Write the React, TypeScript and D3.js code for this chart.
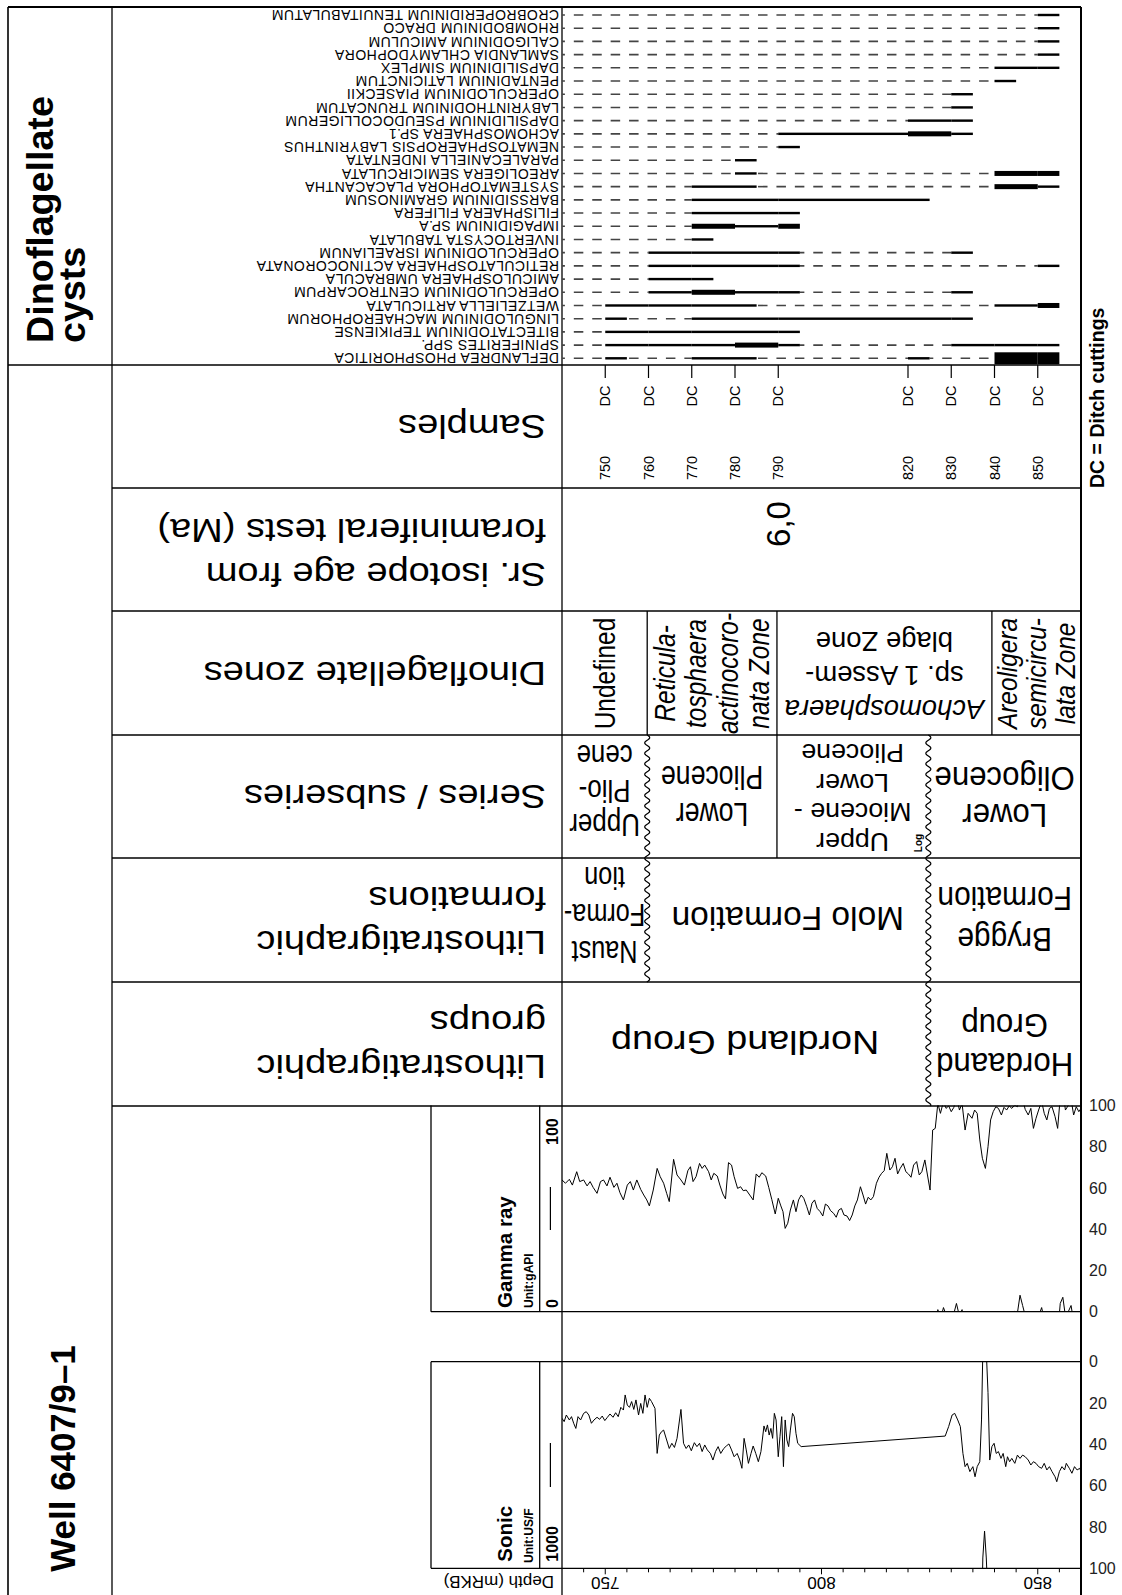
import React from "react";
import * as d3 from "d3";

const FONT = "'Liberation Sans', Arial, Helvetica, sans-serif";

// ---------------- DATA ----------------
const SAMPLE_DEPTHS = [750, 760, 770, 780, 790, 820, 830, 840, 850];
const SAMPLE_TYPE = "DC";

const SPECIES = [
  "CROBROPERIDINIUM TENUITABULATUM",
  "RHOMBODINIUM DRACO",
  "CALIGODINIUM AMICULUM",
  "SAMLANDIA CHLAMYDOPHORA",
  "DAPSILIDINIUM SIMPLEX",
  "PENTADINIUM LATICINCTUM",
  "OPERCULODINIUM PIASECKII",
  "LABYRINTHODINIUM TRUNCATUM",
  "DAPSILIDINIUM PSEUDOCOLLIGERUM",
  "ACHOMOSPHAERA SP.1",
  "NEMATOSPHAEROPSIS LABYRINTHUS",
  "PARALECANIELLA INDENTATA",
  "AREOLIGERA SEMICIRCULATA",
  "SYSTEMATOPHORA PLACACANTHA",
  "BARSSIDINIUM GRAMINOSUM",
  "FILISPHAERA FILIFERA",
  "IMPAGIDINIUM SP.A",
  "INVERTOCYSTA TABULATA",
  "OPERCULODINIUM ISRAELIANUM",
  "RETICULATOSPHAERA ACTINOCORONATA",
  "AMICULOSPHAERA UMBRACULA",
  "OPERCULODINIUM CENTROCARPUM",
  "WETZELIELLA ARTICULATA",
  "LINGULODINIUM MACHAEROPHORUM",
  "BITECTATODINIUM TEPIKIENSE",
  "SPINIFERITES SPP.",
  "DEFLANDREA PHOSPHORITICA",
];

// abundance per sample (order of SAMPLE_DEPTHS): 0 absent, 1 present, 2 common, 3 abundant
const ABUNDANCE = [
  [0, 0, 0, 0, 0, 0, 0, 0, 1],
  [0, 0, 0, 0, 0, 0, 0, 0, 1],
  [0, 0, 0, 0, 0, 0, 0, 0, 1],
  [0, 0, 0, 0, 0, 0, 0, 0, 1],
  [0, 0, 0, 0, 0, 0, 0, 1, 1],
  [0, 0, 0, 0, 0, 0, 0, 1, 0],
  [0, 0, 0, 0, 0, 0, 1, 0, 0],
  [0, 0, 0, 0, 0, 0, 1, 0, 0],
  [0, 0, 0, 0, 0, 1, 1, 0, 0],
  [0, 0, 0, 0, 1, 2, 1, 0, 0],
  [0, 0, 0, 0, 1, 0, 0, 0, 0],
  [0, 0, 0, 1, 0, 0, 0, 0, 0],
  [0, 0, 0, 1, 0, 0, 0, 2, 2],
  [0, 0, 1, 1, 0, 0, 0, 2, 1],
  [0, 0, 1, 1, 1, 1, 0, 0, 0],
  [0, 0, 1, 1, 1, 0, 0, 0, 0],
  [0, 0, 2, 1, 2, 0, 0, 0, 0],
  [0, 0, 1, 0, 0, 0, 0, 0, 0],
  [0, 1, 1, 1, 1, 0, 1, 0, 0],
  [0, 1, 1, 1, 1, 0, 0, 0, 1],
  [0, 1, 1, 0, 0, 0, 0, 0, 0],
  [0, 1, 2, 1, 1, 0, 1, 0, 0],
  [1, 1, 1, 1, 0, 0, 0, 1, 2],
  [1, 0, 1, 1, 1, 1, 1, 0, 0],
  [1, 1, 1, 1, 1, 0, 0, 0, 0],
  [1, 1, 1, 2, 1, 0, 1, 1, 1],
  [1, 0, 1, 1, 0, 1, 0, 3, 3],
];

const SR_AGE = { depth: 790, label: "6,0" };

// boundary depths (m)
const B_NAUST_MOLO = 759.7;
const B_PLIOCENE = 789.7;
const B_UNCONFORMITY = 824.7;
const B_AREOLIGERA = 839.4;

// Gamma ray log [depth m, gAPI]
const GAMMA_LOG = [
  [740.0, 63.9], [740.8, 62.3], [741.7, 64.2], [742.4, 61.4], [743.4, 67.9], [744.1, 63.1],
  [745.0, 63.9], [745.8, 61.0], [746.5, 63.1], [747.2, 60.3], [748.1, 57.4], [748.9, 63.1],
  [749.6, 63.9], [750.4, 61.0], [751.1, 65.2], [752.0, 60.3], [752.7, 62.3], [753.4, 57.7],
  [754.2, 54.2], [755.1, 61.4], [755.8, 63.1], [756.5, 59.0], [757.3, 63.9], [758.2, 59.3],
  [758.9, 56.6], [759.6, 54.2], [760.2, 51.3], [761.1, 59.0], [762.0, 69.5], [762.7, 65.5],
  [763.5, 62.3], [764.2, 57.4], [764.8, 53.4], [765.8, 73.9], [766.6, 66.3], [767.5, 63.9],
  [768.3, 61.4], [769.1, 68.4], [769.7, 70.3], [770.3, 63.1], [771.0, 65.5], [771.8, 71.9],
  [772.4, 69.5], [773.0, 71.1], [773.9, 67.9], [774.5, 63.9], [775.1, 67.1], [775.9, 65.8],
  [776.5, 61.4], [777.2, 57.1], [777.8, 54.7], [778.5, 72.3], [779.2, 71.1], [779.8, 65.5],
  [780.6, 59.8], [781.3, 60.6], [781.9, 58.7], [782.6, 59.0], [783.4, 56.6], [784.2, 54.2],
  [784.9, 66.8], [785.6, 65.2], [786.2, 67.4], [787.1, 65.8], [787.8, 60.3], [788.5, 54.5],
  [789.3, 47.4], [790.0, 55.0], [790.6, 51.3], [791.1, 48.5], [791.6, 40.4], [792.2, 42.9],
  [792.8, 49.3], [793.5, 54.2], [794.1, 48.5], [794.7, 54.2], [795.3, 56.6], [795.9, 55.0],
  [796.6, 50.9], [797.2, 46.9], [797.8, 52.6], [798.4, 54.2], [799.0, 50.1], [799.7, 48.5],
  [800.3, 46.4], [800.9, 52.2], [801.5, 51.3], [802.1, 49.0], [802.8, 47.7], [803.4, 45.8],
  [804.0, 49.3], [804.6, 50.1], [805.2, 46.9], [805.9, 46.4], [806.5, 44.2], [807.1, 46.9],
  [807.7, 51.3], [808.3, 54.2], [809.0, 60.6], [809.6, 56.6], [810.2, 52.2], [810.8, 55.5],
  [811.4, 54.2], [812.0, 55.8], [812.7, 62.3], [813.3, 65.2], [813.9, 67.1], [814.5, 68.4],
  [815.1, 76.8], [815.8, 68.7], [816.4, 70.3], [817.0, 74.4], [817.6, 66.8], [818.2, 69.5],
  [818.9, 71.9], [819.5, 67.9], [820.1, 66.8], [820.7, 65.2], [821.3, 71.1], [822.0, 72.8],
  [822.6, 66.3], [823.2, 67.9], [823.9, 73.6], [824.5, 66.3], [825.1, 59.0], [825.7, 88.1],
  [826.3, 88.9], [826.9, 101.0], [827.5, 96.2], [828.2, 102.0], [828.8, 98.6], [829.4, 99.8],
  [830.0, 97.0], [830.6, 99.1], [831.2, 104.0], [831.9, 97.8], [832.5, 101.0], [833.2, 88.1],
  [833.9, 96.2], [834.8, 93.8], [835.4, 97.8], [836.0, 96.2], [836.6, 83.3], [837.2, 74.4],
  [837.9, 69.5], [838.5, 80.0], [839.1, 93.0], [839.7, 97.0], [840.3, 99.4], [840.9, 98.6],
  [841.6, 95.4], [842.2, 99.1], [842.8, 97.8], [843.4, 99.8], [844.0, 98.6], [844.7, 100.2],
  [845.3, 99.4], [845.9, 108.0], [846.5, 103.0], [847.1, 98.1], [847.8, 95.4], [848.4, 98.6],
  [849.0, 88.9], [849.6, 93.8], [850.2, 97.8], [850.9, 102.0], [851.5, 96.2], [852.1, 93.0],
  [852.7, 98.6], [853.3, 99.4], [854.0, 94.6], [854.6, 88.9], [855.2, 104.0], [855.8, 107.0],
  [856.4, 97.8], [857.1, 100.2], [857.7, 103.0], [858.3, 95.4], [858.9, 99.4], [859.5, 97.0],
  [860.0, 98.6],
];

// Sonic log [depth m, us/ft scaled]
const SONIC_LOG = [
  [740.0, 27.4], [740.5, 29.0], [741.0, 25.8], [741.7, 28.2], [742.2, 26.6], [742.7, 29.8],
  [743.2, 32.3], [743.7, 26.6], [744.3, 28.2], [745.0, 25.0], [745.6, 24.2], [746.2, 25.8],
  [746.8, 29.8], [747.4, 28.2], [748.1, 26.9], [748.7, 27.9], [749.3, 26.3], [749.9, 28.5],
  [750.5, 26.9], [751.1, 25.3], [751.8, 26.9], [752.4, 24.7], [753.0, 26.6], [753.6, 22.1],
  [754.2, 23.4], [754.6, 16.1], [755.1, 21.0], [755.6, 22.1], [756.1, 19.3], [756.6, 23.1],
  [757.1, 18.5], [757.7, 25.8], [758.2, 20.2], [758.7, 25.0], [759.2, 16.1], [759.7, 22.1],
  [760.2, 17.7], [760.7, 19.3], [761.5, 22.6], [762.0, 44.4], [762.5, 35.5], [763.0, 33.9],
  [763.5, 33.1], [764.2, 37.9], [764.8, 42.0], [765.4, 39.5], [766.0, 41.5], [766.6, 37.1],
  [767.5, 23.1], [768.1, 39.5], [768.7, 42.0], [769.3, 40.3], [769.9, 43.1], [770.6, 39.2],
  [771.2, 41.1], [771.8, 39.5], [772.4, 43.5], [773.0, 40.3], [773.6, 42.7], [774.3, 44.4],
  [774.9, 47.6], [775.5, 43.5], [776.1, 41.1], [776.7, 44.4], [777.4, 42.0], [778.0, 40.8],
  [778.6, 39.8], [779.2, 42.7], [779.8, 46.0], [780.5, 44.4], [781.1, 47.6], [781.6, 51.6],
  [782.1, 37.1], [782.6, 42.7], [783.1, 49.2], [783.7, 44.4], [784.2, 40.8], [784.8, 44.4],
  [785.4, 48.4], [786.0, 43.5], [786.7, 31.1], [787.1, 33.9], [787.5, 30.6], [787.9, 35.5],
  [788.3, 32.3], [788.7, 37.1], [789.1, 25.0], [789.5, 28.2], [790.0, 46.0], [790.4, 36.3],
  [790.8, 26.6], [791.2, 50.8], [791.6, 28.2], [792.0, 37.9], [792.4, 41.1], [792.8, 33.1],
  [793.3, 25.0], [793.7, 26.6], [794.1, 34.7], [794.5, 39.5], [795.3, 41.1],
  [828.6, 36.0], [829.4, 31.4], [830.2, 25.8], [830.8, 25.0], [831.5, 28.2], [832.1, 31.4],
  [832.7, 44.4], [833.2, 50.8], [833.7, 49.2], [834.3, 53.2], [835.0, 50.8], [835.5, 55.7],
  [836.0, 50.8], [836.6, 48.4], [837.0, 28.2], [837.3, -5.0], [837.7, -18.0], [838.1, -5.0],
  [838.5, 15.0], [838.9, 47.6], [839.4, 41.1], [839.9, 39.5], [840.4, 44.4], [840.9, 43.5],
  [841.5, 46.8], [842.0, 44.4], [842.6, 50.8], [843.0, 46.0], [843.5, 48.4], [844.0, 46.8],
  [844.7, 49.2], [845.3, 45.2], [845.9, 46.8], [846.5, 45.2], [847.1, 46.0], [847.8, 47.6],
  [848.4, 50.0], [849.0, 48.4], [849.6, 49.2], [850.2, 50.8], [850.9, 51.6], [851.5, 49.2],
  [852.1, 52.4], [852.7, 50.8], [853.3, 53.2], [854.0, 55.7], [854.4, 58.1], [855.0, 53.2],
  [855.6, 50.8], [856.2, 52.4], [856.6, 49.2], [857.3, 51.6], [857.9, 54.0], [858.5, 50.8],
  [859.1, 52.4], [859.7, 51.6], [860.0, 53.2],
];

const LOG_TICKS = [0, 20, 40, 60, 80, 100];
const DEPTH_LABELS = [750, 800, 850];

// ---------------- LAYOUT ----------------
const W = 1122;
const H = 1595;
const X_LEFT = 8;
const X_TITLE = 112;
const X_MAIN = 562;
const X_RIGHT = 1081;
const X_HEAD = 431;
const X_HEADSEP = 539.7;
const Y_TOP = 7;
const Y_CYST = 365;
const Y_SAMP = 488;
const Y_SR = 611;
const Y_ZONE = 735;
const Y_SERIES = 858;
const Y_FORM = 982;
const Y_GROUP = 1106;
const G_TOP = 1105.5;
const G_BOT = 1311.7;
const S_TOP = 1361.7;
const S_BOT = 1568.3;
const BAR_H: Record<number, number> = { 1: 2.4, 2: 5, 3: 12 };
const DASH = 9.5;
const DASH_P = 18.42;
const DASH_ORIGIN = 555.4;

type BlockProps = {
  x: number;
  y: number;
  rot: number;
  lines: string[];
  size: number;
  sx?: number;
  lh?: number;
  anchor?: "start" | "middle" | "end";
  weight?: string;
  italic?: boolean[];
  fill?: string;
  ls?: number;
};

function Block({ x, y, rot, lines, size, sx = 1, lh = 0, anchor = "middle", weight = "normal", italic = [], fill = "#000", ls = 0 }: BlockProps) {
  const n = lines.length;
  return (
    <g transform={`translate(${x},${y}) rotate(${rot}) scale(${sx},1)`}>
      {lines.map((t, i) => (
        <text
          key={i}
          x={0}
          y={(i - (n - 1) / 2) * lh}
          dy="0.35em"
          textAnchor={anchor}
          fontSize={size}
          fontWeight={weight}
          fontStyle={italic[i] ? "italic" : "normal"}
          fill={fill}
          letterSpacing={ls}
          fontFamily={FONT}
        >
          {t}
        </text>
      ))}
    </g>
  );
}

function wavy(x0: number, y0: number, y1: number, amp = 2.5, period = 10.5) {
  const pts: [number, number][] = [];
  for (let y = y0; y <= y1; y += 0.75) pts.push([x0 + amp * Math.sin(((y - y0) / period) * 2 * Math.PI), y]);
  pts.push([x0 + amp * Math.sin(((y1 - y0) / period) * 2 * Math.PI), y1]);
  return d3.line()(pts) || "";
}

function rangeSegments(row: number[]) {
  const bars: { d0: number; d1: number; v: number }[] = [];
  const dashes: [number, number][] = [];
  const present = row.map((v, i) => (v > 0 ? i : -1)).filter((i) => i >= 0);
  if (!present.length) return { bars, dashes };
  dashes.push([740, SAMPLE_DEPTHS[present[0]]]);
  present.forEach((i, k) => {
    const nextPresent = (row[i + 1] || 0) > 0;
    const end = nextPresent ? SAMPLE_DEPTHS[i + 1] : SAMPLE_DEPTHS[i] + 5;
    bars.push({ d0: SAMPLE_DEPTHS[i], d1: end, v: row[i] });
    if (!nextPresent && k < present.length - 1) dashes.push([SAMPLE_DEPTHS[i] + 5, SAMPLE_DEPTHS[present[k + 1]]]);
  });
  return { bars, dashes };
}

export default function App() {
  const x = d3.scaleLinear().domain([740, 860]).range([X_MAIN, X_RIGHT]);
  const yRow = d3.scalePoint<string>().domain(SPECIES).range([15, 358.3]);
  const gy = d3.scaleLinear().domain([0, 100]).range([G_BOT, G_TOP]);
  const sy = d3.scaleLinear().domain([0, 100]).range([S_TOP, S_BOT]);
  const mid = (a: number, b: number) => (x(a) + x(b)) / 2;

  const gLine = d3.line<number[]>().x((d) => x(d[0])).y((d) => gy(d[1]));
  const gWrap = d3.line<number[]>().x((d) => x(d[0])).y((d) => gy(d[1] - 100));
  const sLine = d3.line<number[]>().x((d) => x(d[0])).y((d) => sy(d[1]));
  const sWrap = d3.line<number[]>().x((d) => x(d[0])).y((d) => sy(d[1] + 100));

  const depthTicks = x.ticks(24).filter((d) => d > 740 && d < 860);

  const ln = { stroke: "#000", strokeWidth: 1.3 };

  const headerRows: { y: number; lines: string[] }[] = [
    { y: (Y_CYST + Y_SAMP) / 2, lines: ["Samples"] },
    { y: (Y_SAMP + Y_SR) / 2 + 3, lines: ["Sr. isotope age from", "foraminiferal tests (Ma)"] },
    { y: (Y_SR + Y_ZONE) / 2, lines: ["Dinoflagellate zones"] },
    { y: (Y_ZONE + Y_SERIES) / 2, lines: ["Series / subseries"] },
    { y: (Y_SERIES + Y_FORM) / 2, lines: ["Lithostratigraphic", "formations"] },
    { y: (Y_FORM + Y_GROUP) / 2, lines: ["Lithostratigraphic", "groups"] },
  ];

  return (
    <svg
      width={W}
      height={H}
      viewBox={`0 0 ${W} ${H}`}
      style={{ position: "absolute", left: 0, top: 0, display: "block", background: "#fff" }}
      fontFamily={FONT}
    >
      <defs>
        <clipPath id="gclip">
          <rect x={X_MAIN} y={G_TOP} width={X_RIGHT - X_MAIN} height={G_BOT - G_TOP} />
        </clipPath>
        <clipPath id="sclip">
          <rect x={X_MAIN} y={S_TOP} width={X_RIGHT - X_MAIN} height={S_BOT - S_TOP} />
        </clipPath>
      </defs>
      <rect x={0} y={0} width={W} height={H} fill="#fff" />

      {/* ---------- frame ---------- */}
      <line x1={X_LEFT} y1={Y_TOP} x2={X_RIGHT} y2={Y_TOP} stroke="#000" strokeWidth={2} />
      <line x1={X_LEFT} y1={Y_TOP} x2={X_LEFT} y2={H} stroke="#000" strokeWidth={1.6} />
      <line x1={X_RIGHT} y1={Y_TOP} x2={X_RIGHT} y2={H} stroke="#000" strokeWidth={2} />
      <line x1={X_TITLE} y1={Y_TOP} x2={X_TITLE} y2={H} {...ln} />
      <line x1={X_MAIN} y1={Y_TOP} x2={X_MAIN} y2={H} {...ln} />
      <line x1={X_LEFT} y1={Y_CYST} x2={X_RIGHT} y2={Y_CYST} {...ln} />
      {[Y_SAMP, Y_SR, Y_ZONE, Y_SERIES, Y_FORM, Y_GROUP].map((yy) => (
        <line key={yy} x1={X_TITLE} y1={yy} x2={X_RIGHT} y2={yy} {...ln} />
      ))}

      {/* ---------- title column ---------- */}
      <Block x={56.8} y={343} rot={-90} lines={["Dinoflagellate", "cysts"]} size={36} sx={1.046} lh={32} anchor="start" weight="bold" />
      <Block x={62.1} y={1571.7} rot={-90} lines={["Well 6407/9–1"]} size={36} sx={0.97} anchor="start" weight="bold" />

      {/* ---------- header labels ---------- */}
      {headerRows.map((r, i) => (
        <Block key={i} x={546} y={r.y} rot={180} lines={r.lines} size={32.5} sx={1.17} lh={44} anchor="start" />
      ))}

      {/* ---------- species labels and range chart ---------- */}
      {SPECIES.map((name, r) => {
        const yy = yRow(name) as number;
        const { bars, dashes } = rangeSegments(ABUNDANCE[r]);
        return (
          <g key={name}>
            <Block x={559} y={yy} rot={180} lines={[name]} size={14} anchor="start" ls={0.5} />
            {dashes.map(([a, b], k) => {
              const x1 = x(a);
              const off = (((x1 - DASH_ORIGIN) % DASH_P) + DASH_P) % DASH_P;
              return (
                <line
                  key={"d" + k}
                  x1={x1}
                  x2={x(b)}
                  y1={yy}
                  y2={yy}
                  stroke="#444"
                  strokeWidth={1.6}
                  strokeDasharray={`${DASH} ${DASH_P - DASH}`}
                  strokeDashoffset={off}
                />
              );
            })}
            {bars.map((b, k) => (
              <rect key={"b" + k} x={x(b.d0)} width={x(b.d1) - x(b.d0)} y={yy - BAR_H[b.v] / 2} height={BAR_H[b.v]} fill="#000" />
            ))}
          </g>
        );
      })}

      {/* ---------- samples ---------- */}
      {SAMPLE_DEPTHS.map((d) => (
        <g key={d}>
          <line x1={x(d)} x2={x(d)} y1={Y_CYST} y2={378} stroke="#000" strokeWidth={1.2} />
          <Block x={x(d)} y={396} rot={-90} lines={[SAMPLE_TYPE]} size={14.5} />
          <Block x={x(d)} y={468} rot={-90} lines={[String(d)]} size={14.5} />
        </g>
      ))}
      <Block x={1097.4} y={488} rot={-90} lines={["DC = Ditch cuttings"]} size={19.5} anchor="start" weight="bold" />

      {/* ---------- Sr age ---------- */}
      <Block x={x(SR_AGE.depth)} y={524} rot={-90} lines={[SR_AGE.label]} size={33} />

      {/* ---------- dinoflagellate zones ---------- */}
      {[B_NAUST_MOLO, B_PLIOCENE, B_AREOLIGERA].map((b) => (
        <line key={b} x1={x(b)} x2={x(b)} y1={Y_SR} y2={Y_ZONE} {...ln} />
      ))}
      <Block x={mid(740, B_NAUST_MOLO)} y={673.5} rot={-90} lines={["Undefined"]} size={29} sx={0.845} />
      <Block
        x={mid(B_NAUST_MOLO, B_PLIOCENE)}
        y={673.5}
        rot={-90}
        lines={["Reticula-", "tosphaera", "actinocoro-", "nata Zone"]}
        size={29}
        sx={0.845}
        lh={31.5}
        italic={[true, true, true, true]}
      />
      <Block
        x={mid(B_PLIOCENE, B_AREOLIGERA)}
        y={676}
        rot={180}
        lines={["Achomosphaera", "sp. 1 Assem-", "blage Zone"]}
        size={28}
        sx={0.98}
        lh={34}
        italic={[true, false, false]}
      />
      <Block
        x={mid(B_AREOLIGERA, 860)}
        y={673.5}
        rot={-90}
        lines={["Areoligera", "semicircu-", "lata Zone"]}
        size={28}
        sx={0.87}
        lh={29}
        italic={[true, true, true]}
      />

      {/* ---------- series ---------- */}
      <path d={wavy(x(B_NAUST_MOLO), Y_ZONE, Y_FORM)} fill="none" stroke="#000" strokeWidth={1.2} />
      <path d={wavy(x(B_UNCONFORMITY), Y_ZONE, Y_GROUP)} fill="none" stroke="#000" strokeWidth={1.2} />
      <line x1={x(B_PLIOCENE)} x2={x(B_PLIOCENE)} y1={Y_ZONE} y2={Y_SERIES} {...ln} />
      <Block x={mid(740, B_NAUST_MOLO)} y={791} rot={180} lines={["Upper", "Plio-", "cene"]} size={32} sx={0.81} lh={34.5} />
      <Block x={mid(B_NAUST_MOLO, B_PLIOCENE)} y={796} rot={180} lines={["Lower", "Pliocene"]} size={32.5} sx={0.82} lh={37.5} />
      <Block
        x={mid(B_PLIOCENE, B_UNCONFORMITY)}
        y={797.5}
        rot={180}
        lines={["Upper", "Miocene -", "Lower", "Pliocene"]}
        size={26}
        sx={1.03}
        lh={29.5}
      />
      <Block x={mid(B_UNCONFORMITY, 860)} y={796.5} rot={180} lines={["Lower", "Oligocene"]} size={32.5} sx={0.96} lh={37} />
      <Block x={x(B_UNCONFORMITY) - 10} y={843} rot={-90} lines={["Log"]} size={10} weight="bold" />

      {/* ---------- formations ---------- */}
      <Block x={mid(740, B_NAUST_MOLO)} y={915} rot={180} lines={["Naust", "Forma-", "tion"]} size={32} sx={0.79} lh={37} />
      <Block x={mid(B_NAUST_MOLO, B_UNCONFORMITY)} y={918.5} rot={180} lines={["Molo Formation"]} size={32.5} sx={1.03} />
      <Block x={mid(B_UNCONFORMITY, 860)} y={919} rot={180} lines={["Brygge", "Formation"]} size={32.5} sx={0.92} lh={41} />

      {/* ---------- groups ---------- */}
      <Block x={mid(740, B_UNCONFORMITY)} y={1042} rot={180} lines={["Nordland Group"]} size={32.5} sx={1.16} />
      <Block x={mid(B_UNCONFORMITY, 860)} y={1045} rot={180} lines={["Hordaand", "Group"]} size={32.5} sx={0.96} lh={39} />

      {/* ---------- gamma ray log ---------- */}
      <g>
        <line x1={X_HEAD} y1={G_TOP} x2={X_HEAD} y2={G_BOT} {...ln} />
        <line x1={X_HEADSEP} y1={G_TOP} x2={X_HEADSEP} y2={G_BOT} {...ln} />
        <line x1={X_HEAD} y1={G_BOT} x2={X_RIGHT} y2={G_BOT} {...ln} />
        <Block x={504.7} y={1308} rot={-90} lines={["Gamma ray"]} size={20.5} anchor="start" weight="bold" />
        <Block x={528.7} y={1308} rot={-90} lines={["Unit:gAPI"]} size={12} anchor="start" weight="bold" />
        <Block x={552.3} y={1308} rot={-90} lines={["0"]} size={16} anchor="start" weight="bold" />
        <Block x={552.3} y={1145} rot={-90} lines={["100"]} size={16} anchor="start" weight="bold" />
        <line x1={550.4} x2={550.4} y1={1187} y2={1230} stroke="#000" strokeWidth={1.2} />
        <g clipPath="url(#gclip)">
          <path d={gLine(GAMMA_LOG) || ""} fill="none" stroke="#000" strokeWidth={1} />
          <path d={gWrap(GAMMA_LOG) || ""} fill="none" stroke="#000" strokeWidth={1} />
        </g>
        {LOG_TICKS.map((t) => (
          <text key={t} x={1089} y={gy(t)} dy="0.35em" fontSize={16} fill="#222">
            {t}
          </text>
        ))}
      </g>

      {/* ---------- sonic log ---------- */}
      <g>
        <line x1={X_HEAD} y1={S_TOP} x2={X_RIGHT} y2={S_TOP} {...ln} />
        <line x1={X_HEAD} y1={S_BOT} x2={X_RIGHT} y2={S_BOT} {...ln} />
        <line x1={X_HEAD} y1={S_TOP} x2={X_HEAD} y2={S_BOT} {...ln} />
        <line x1={X_HEADSEP} y1={S_TOP} x2={X_HEADSEP} y2={S_BOT} {...ln} />
        <Block x={504.7} y={1561.7} rot={-90} lines={["Sonic"]} size={20.5} anchor="start" weight="bold" />
        <Block x={528.7} y={1563} rot={-90} lines={["Unit:US/F"]} size={12} anchor="start" weight="bold" />
        <Block x={552.3} y={1561.7} rot={-90} lines={["1000"]} size={16} anchor="start" weight="bold" />
        <line x1={550.4} x2={550.4} y1={1443} y2={1487} stroke="#000" strokeWidth={1.2} />
        <g clipPath="url(#sclip)">
          <path d={sLine(SONIC_LOG) || ""} fill="none" stroke="#000" strokeWidth={1} />
          <path d={sWrap(SONIC_LOG) || ""} fill="none" stroke="#000" strokeWidth={1} />
        </g>
        {LOG_TICKS.map((t) => (
          <text key={t} x={1089} y={sy(t)} dy="0.35em" fontSize={16} fill="#222">
            {t}
          </text>
        ))}
      </g>

      {/* ---------- depth axis ---------- */}
      {depthTicks.map((d) => (
        <line key={d} x1={x(d)} x2={x(d)} y1={S_BOT} y2={S_BOT + (d % 50 === 0 ? 6 : 4)} stroke="#000" strokeWidth={1} />
      ))}
      {DEPTH_LABELS.map((d) => (
        <Block key={d} x={x(d)} y={1583.3} rot={180} lines={[String(d)]} size={17} />
      ))}
      <Block x={554} y={1582} rot={180} lines={["Depth (mRKB)"]} size={17} anchor="start" />
    </svg>
  );
}
